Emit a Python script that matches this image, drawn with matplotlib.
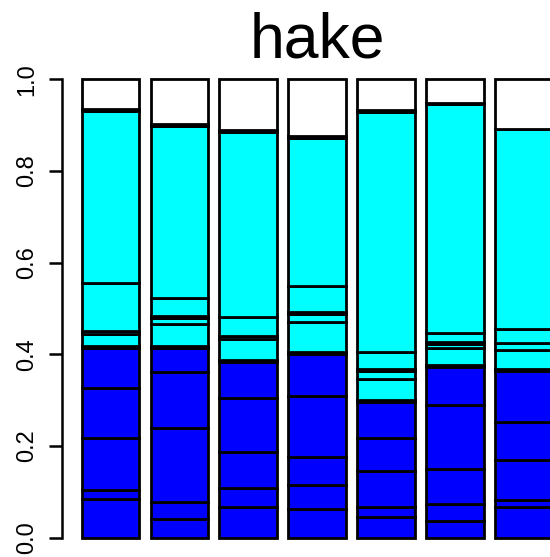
import numpy as np
import matplotlib.pyplot as plt

plt.rcParams['font.family'] = ['Liberation Sans', 'DejaVu Sans']

# stacked proportions per bar, bottom layer first
blue1 = [0.0834, 0.040, 0.066, 0.0615, 0.0454, 0.036, 0.067]
blue2 = [0.0203, 0.0368, 0.041, 0.0531, 0.0216, 0.0365, 0.014]
blue3 = [0.1141, 0.1612, 0.079, 0.0614, 0.078, 0.0765, 0.089]
blue4 = [0.1078, 0.124, 0.119, 0.1335, 0.073, 0.140, 0.083]
blue5 = [0.0884, 0.052, 0.078, 0.0905, 0.078, 0.083, 0.110]
trace1 = [0.004, 0.004, 0.004, 0.004, 0.004, 0.004, 0.004]
cyan1 = [0.0255, 0.048, 0.047, 0.067, 0.046, 0.037, 0.042]
cyan2 = [0.0072, 0.014, 0.0, 0.017, 0.018, 0.009, 0.015]
trace2 = [0.0, 0.004, 0.005, 0.005, 0.004, 0.004, 0.0]
cyan3 = [0.1043, 0.038, 0.043, 0.056, 0.036, 0.020, 0.030]
cyan4 = [0.375, 0.376, 0.404, 0.322, 0.524, 0.501, 0.437]
trace3 = [0.005, 0.004, 0.004, 0.005, 0.005, 0.002, 0.0]
white = [0.065, 0.098, 0.110, 0.124, 0.067, 0.051, 0.109]

layers = [blue1, blue2, blue3, blue4, blue5, trace1,
          cyan1, cyan2, trace2, cyan3, cyan4, trace3, white]
colors = ["#0000FF"] * 5 + ["#00FFFF"] * 7 + ["#FFFFFF"]

W, H = 550, 557
fig = plt.figure(figsize=(W / 100, H / 100), dpi=100)

# plot region in pixels (R style: 4% padding on y)
left_px, right_px = 62.3, 550
y0_px, y1_px = 537.5, 79.3
unit = y0_px - y1_px
bottom_px = y0_px + 0.04 * unit
top_px = y1_px - 0.04 * unit
ax = fig.add_axes([left_px / W, (H - bottom_px) / H,
                   (right_px - left_px) / W, (bottom_px - top_px) / H])

n = len(white)
x = 0.7 + 1.2 * np.arange(n)
bottom = np.zeros(n)
for vals, col in zip(layers, colors):
    vals = np.array(vals)
    ax.bar(x, vals, width=1.0, bottom=bottom, color=col,
           edgecolor="black", linewidth=2.0)
    bottom += vals

xunit = 68.9 / 1.2
ax.set_xlim(-0.137, -0.137 + (right_px - left_px) / xunit)
ax.set_ylim(-0.04, 1.04)

for s in ["top", "right", "bottom"]:
    ax.spines[s].set_visible(False)
ax.spines["left"].set_bounds(0, 1)
ax.spines["left"].set_linewidth(1.8)
ax.set_xticks([])
ax.set_yticks([0, 0.2, 0.4, 0.6, 0.8, 1.0])
ax.set_yticklabels(["0.0", "0.2", "0.4", "0.6", "0.8", "1.0"],
                   rotation=90, va="center", fontsize=17)
ax.tick_params(axis="y", length=9.5, width=1.8, pad=8)

fig.text((left_px + 572) / 2 / W, (H - 58) / H, "hake",
         ha="center", va="baseline", fontsize=45)

fig.savefig("out.png", dpi=100)
